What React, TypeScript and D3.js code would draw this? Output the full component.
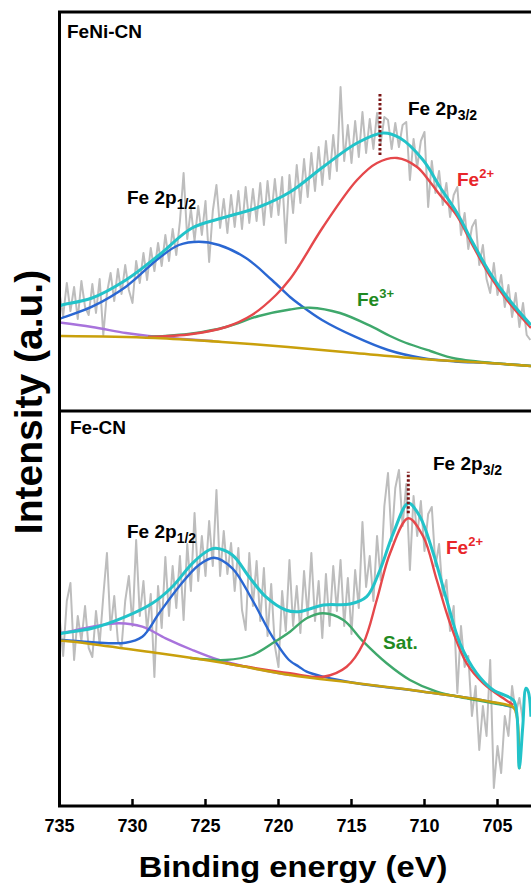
import React from 'react';
import * as d3 from 'd3';

const W = 531;
const H = 888;
const X_DOMAIN: [number, number] = [735, 700];
const X_TICKS = [735, 730, 725, 720, 715, 710, 705];
const PANEL_NAMES = ['FeNi-CN', 'Fe-CN'];

const RAW_START = 735;
const RAW_STEP = 0.25;

// raw spectrum, FeNi-CN (a.u.)
const rawTop = [118,95,128,100,124,92,130,104,96,127,
 98,132,76,118,138,110,142,117,146,121,
 108,150,128,158,131,163,140,168,145,176,
 150,182,156,190,238,172,202,170,205,176,
 210,149,200,226,183,212,178,216,184,220,
 182,224,188,222,190,228,186,230,194,232,
 196,234,168,236,198,246,208,252,214,258,
 220,264,226,270,232,276,240,324,250,286,
 248,290,254,299,258,292,262,298,268,294,
 291,262,288,264,286,289,231,272,244,270,
 279,204,250,218,240,206,228,194,216,224,
 176,198,162,184,191,146,166,132,118,148,
 116,136,104,126,94,118,84,108,76,71];

// raw spectrum, Fe-CN (a.u.)
const rawBot = [190,150,205,223,146,190,165,200,158,149,
 195,162,210,253,176,210,165,159,205,230,
 180,266,190,225,175,212,129,220,178,249,
 190,240,198,250,186,262,215,293,225,270,
 230,285,240,316,230,275,232,263,215,258,
 196,176,253,200,245,185,238,170,222,160,
 139,215,175,246,180,220,173,235,190,253,
 185,225,168,232,180,240,195,246,180,228,
 172,236,198,284,219,250,205,270,226,300,
 333,265,318,336,280,322,236,310,270,305,
 255,292,299,240,262,210,226,175,200,113,
 180,139,150,90,120,56,100,70,146,18,
 60,33,90,70,120,93,108,85];

type P = [number, number];

// FeNi-CN fitted components [eV, intensity]
const topBaseline: P[] = [[735,75],[734.83,75],[728.46,73],[723.87,69],[719.35,64],[714.76,58],[710.17,52],[705.65,48],[702.71,45]];
const topPurple: P[] = [[735,88.5],[732.77,84],[730.45,78],[728.89,75],[727.0,72.5],[724.5,70]];
const topBlue: P[] = [[735,92],[734.83,93],[732.77,104.3],[730.45,124.3],[728.18,153],[726.82,166],[725.45,169.3],[724.08,166],[722.23,153],[720.45,131],[719.21,114],[718.6,107],[717.02,91],[714.76,74.3],[712.5,61],[710.17,53],[707.91,49.5],[705.65,48],[702.71,45]];
const topGreen: P[] = [[728.94,74],[725.92,77.5],[723.6,84],[721.34,95],[719.21,101.5],[717.84,103.3],[715.79,98],[713.6,84.3],[712.36,75],[711.34,68.5],[709.6,60],[707.91,52.5],[704.49,47],[702.71,45]];
const topRed: P[] = [[728.94,74],[725.92,77],[723.6,84],[721.82,96],[720.17,116],[719.21,132],[718.6,145],[716.95,184],[714.62,231],[713.25,248],[711.88,253],[710.51,244],[709.62,229],[708.94,216],[707.77,195],[706.68,165],[705.51,135],[704.35,111],[702.71,83]];
const topEnvelope: P[] = [[735,105],[734.83,106],[732.77,113],[730.45,131],[728.18,156],[725.92,183],[723.6,194],[721.34,204],[719.21,219],[716.95,244],[714.62,268],[712.84,278],[711.68,273],[710.1,251],[708.94,224],[707.77,198],[706.68,168],[705.51,138],[704.35,114],[702.71,86]];
const topMarker: P[] = [[713.05,256],[713.05,318]];

// Fe-CN fitted components [eV, intensity]
const botBaseline: P[] = [[735,165],[734.81,165.3],[728.18,152.7],[723.62,142.7],[719.21,131],[714.64,122.7],[710.08,114.3],[705.51,104.3],[703.92,98.7],[703.68,90],[703.51,37]];
const botPurple: P[] = [[735,173.5],[734.81,173.3],[732.75,179.3],[730.92,182.7],[729.33,179.3],[727.73,167.7],[725.9,156],[724.08,146],[722.25,139.3],[719.21,131]];
const botBlue: P[] = [[735,166],[734.81,166],[732.75,163.7],[730.47,163.3],[729.33,169.3],[728.18,192.7],[726.82,219.3],[725.45,241],[724.42,248.3],[723.16,237.7],[721.79,206],[720.42,169.3],[719.28,146],[718.6,139.3],[718.07,134.3],[716.93,129.3],[714.64,122.7],[710.08,114.3],[705.51,104.3],[703.92,98.7]];
const botGreen: P[] = [[726.06,148],[723.62,146],[721.79,151],[720.42,162.7],[719.21,174.3],[718.07,187.7],[716.93,192.7],[715.56,186],[714.19,164.3],[712.59,142.7],[711.0,126],[709.16,114.3],[707.11,107.7],[703.92,99.3]];
const botRed: P[] = [[723.62,142.7],[719.21,132.7],[716.93,129.3],[715.33,139.3],[714.19,162.7],[713.27,206],[712.36,252.7],[711.11,287.7],[710.08,269.3],[709.16,226],[708.25,182.7],[707.11,142.7],[705.97,122.7],[704.6,107.7],[703.92,101]];
const botEnvelope: P[] = [[735,172],[734.81,172.7],[732.75,177.7],[730.47,189.3],[728.64,202.7],[727.27,219.3],[725.9,242.7],[724.76,256],[724.3,257.7],[723.16,251],[722.02,229.3],[720.88,209.3],[719.51,196],[718.6,194.3],[716.93,201],[715.1,202],[713.96,209.3],[713.05,236],[712.14,272.7],[711.11,302.7],[710.31,289.3],[709.4,252.7],[708.48,206],[707.57,162.7],[706.42,132.7],[705.29,116],[703.92,106],[703.68,92.7],[703.51,37.7],[703.27,79.3],[703.05,117.7],[702.89,114.3],[702.71,89.3]];
const botMarker: P[] = [[711.11,292.7],[711.11,334.3]];

const COLORS = {
  raw: '#bdbdbd',
  baseline: '#c9a00c',
  purple: '#a873dc',
  blue: '#2a67d2',
  green: '#3fa86c',
  red: '#e5484b',
  envelope: '#22c3c9',
  marker: '#7a1414',
  labelRed: '#e8262a',
  labelGreen: '#1f8a22',
};

const FONT = 'Arial, "Liberation Sans", Helvetica, sans-serif';

export default function App() {
  const x = d3.scaleLinear().domain(X_DOMAIN).range([59.5, 59.5 + 35 * 14.6]);
  const yTop = d3.scaleLinear().domain([0, 399]).range([411, 12]);
  const yBot = d3.scaleLinear().domain([0, 395]).range([806, 411]);

  const rawPts = (arr: number[]): P[] => arr.map((v, i) => [RAW_START - i * RAW_STEP, v]);

  const smooth = (y: d3.ScaleLinear<number, number>) =>
    d3.line<P>().x(d => x(d[0])).y(d => y(d[1])).curve(d3.curveCatmullRom.alpha(0.5));
  const lin = (y: d3.ScaleLinear<number, number>) =>
    d3.line<P>().x(d => x(d[0])).y(d => y(d[1]));

  const panels = [
    { y: yTop, raw: rawPts(rawTop), base: topBaseline, purple: topPurple, blue: topBlue, green: topGreen, red: topRed, env: topEnvelope, marker: topMarker, clip: 'clipTop', y0: 411, y1: 12 },
    { y: yBot, raw: rawPts(rawBot), base: botBaseline, purple: botPurple, blue: botBlue, green: botGreen, red: botRed, env: botEnvelope, marker: botMarker, clip: 'clipBot', y0: 806, y1: 411 },
  ];

  const xr = x.range();

  return (
    <svg width={W} height={H} style={{ position: 'absolute', left: 0, top: 0, background: '#fff' }} fontFamily={FONT}>
      <defs>
        {panels.map(p => (
          <clipPath id={p.clip} key={p.clip}>
            <rect x={xr[0]} y={p.y1} width={xr[1] - xr[0]} height={p.y0 - p.y1} />
          </clipPath>
        ))}
      </defs>
      {panels.map((p, k) => (
        <g key={k} clipPath={`url(#${p.clip})`} fill="none">
          <path d={lin(p.y)(p.raw) || ''} stroke={COLORS.raw} strokeWidth={2} strokeLinejoin="round" />
          <path d={smooth(p.y)(p.purple) || ''} stroke={COLORS.purple} strokeWidth={2.4} />
          <path d={smooth(p.y)(p.blue) || ''} stroke={COLORS.blue} strokeWidth={2.4} />
          <path d={smooth(p.y)(p.green) || ''} stroke={COLORS.green} strokeWidth={2.4} />
          <path d={smooth(p.y)(p.red) || ''} stroke={COLORS.red} strokeWidth={2.4} />
          <path d={smooth(p.y)(p.base) || ''} stroke={COLORS.baseline} strokeWidth={2.6} />
          <path d={smooth(p.y)(p.env) || ''} stroke={COLORS.envelope} strokeWidth={3} />
          <path d={lin(p.y)(p.marker) || ''} stroke={COLORS.marker} strokeWidth={3} strokeDasharray="2.5 2" />
        </g>
      ))}

      {/* frame */}
      <rect x={xr[0]} y={12} width={xr[1] - xr[0]} height={806 - 12} fill="none" stroke="#000" strokeWidth={3} />
      <line x1={xr[0]} x2={xr[1]} y1={411} y2={411} stroke="#000" strokeWidth={3} />

      {/* x ticks */}
      {X_TICKS.map(t => (
        <g key={t}>
          <line x1={x(t)} x2={x(t)} y1={806} y2={799} stroke="#000" strokeWidth={2.5} />
          <text x={x(t)} y={832} textAnchor="middle" fontSize={18} fontWeight="bold">{t}</text>
        </g>
      ))}

      {/* axis titles */}
      <text transform="translate(293,877) scale(1.09,1)" textAnchor="middle" fontSize={30} fontWeight="bold">Binding energy (eV)</text>
      <text transform="translate(42,402) rotate(-90)" textAnchor="middle" fontSize={39} fontWeight="bold">Intensity (a.u.)</text>

      {/* panel labels */}
      <text x={67} y={38} fontSize={19} fontWeight="bold">{PANEL_NAMES[0]}</text>
      <text x={70} y={434} fontSize={19} fontWeight="bold">{PANEL_NAMES[1]}</text>

      {/* annotations FeNi-CN */}
      <text x={408} y={115} fontSize={19} fontWeight="bold">Fe 2p<tspan fontSize={14} dy={5}>3/2</tspan></text>
      <text x={457} y={186} fontSize={19} fontWeight="bold" fill={COLORS.labelRed}>Fe<tspan fontSize={13} dy={-8}>2+</tspan></text>
      <text x={127} y={204} fontSize={19} fontWeight="bold">Fe 2p<tspan fontSize={14} dy={5}>1/2</tspan></text>
      <text x={357} y={306} fontSize={19} fontWeight="bold" fill={COLORS.labelGreen}>Fe<tspan fontSize={13} dy={-8}>3+</tspan></text>

      {/* annotations Fe-CN */}
      <text x={433} y={470} fontSize={19} fontWeight="bold">Fe 2p<tspan fontSize={14} dy={5}>3/2</tspan></text>
      <text x={127} y={538} fontSize={19} fontWeight="bold">Fe 2p<tspan fontSize={14} dy={5}>1/2</tspan></text>
      <text x={446} y={554} fontSize={19} fontWeight="bold" fill={COLORS.labelRed}>Fe<tspan fontSize={13} dy={-8}>2+</tspan></text>
      <text x={383} y={649} fontSize={19} fontWeight="bold" fill={COLORS.labelGreen}>Sat.</text>
    </svg>
  );
}
